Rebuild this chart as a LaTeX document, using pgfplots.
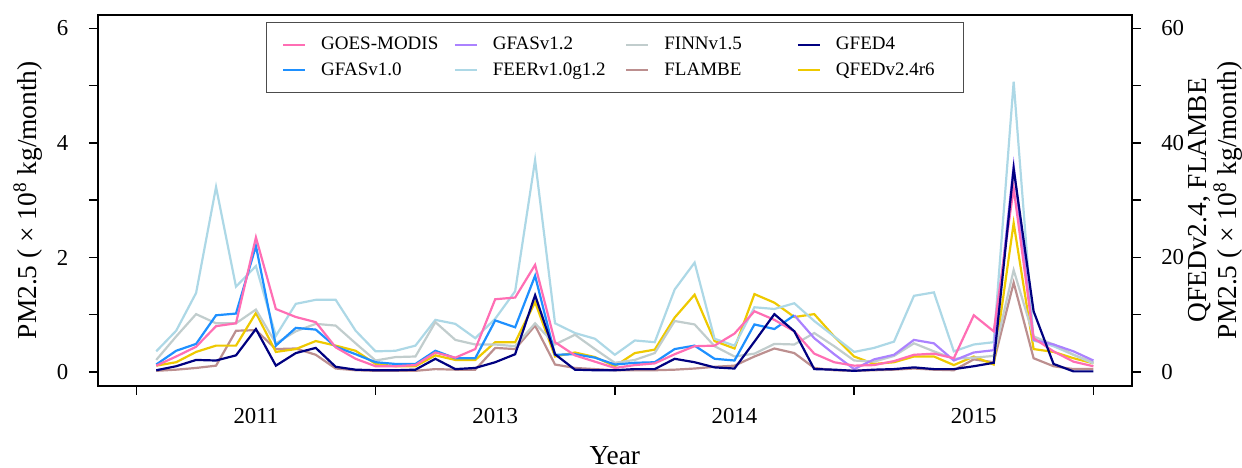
\documentclass[border=0pt]{standalone}
\usepackage{fontspec}
\setmainfont{Liberation Serif}
\usepackage{pgfplots}
\usepackage{pgfplotstable}
\pgfplotsset{compat=1.18}

\definecolor{goescol}{HTML}{FF6EB4}
\definecolor{gfasAcol}{HTML}{1E90FF}
\definecolor{gfasBcol}{HTML}{AB82FF}
\definecolor{feercol}{HTML}{ADD8E6}
\definecolor{finncol}{HTML}{C1CDCD}
\definecolor{flambecol}{HTML}{BC8F8F}
\definecolor{gfedcol}{HTML}{000080}
\definecolor{qfedcol}{HTML}{EEC900}

% monthly PM2.5 emissions, Jan 2011 ... Dec 2015 (x 10^8 kg/month), left axis
\pgfplotstableread{
m  goes gfasA gfasB feer finn gfed
1  0.11 0.13 nan  0.36 0.21 0.03
2  0.27 0.37 nan  0.72 0.62 0.10
3  0.44 0.49 nan  1.38 1.01 0.21
4  0.80 0.99 nan  3.23 0.85 0.20
5  0.85 1.02 nan  1.49 0.85 0.29
6  2.35 2.20 nan  1.85 1.09 0.75
7  1.10 0.46 nan  0.63 0.50 0.11
8  0.96 0.77 nan  1.19 0.71 0.33
9  0.87 0.74 nan  1.26 0.84 0.42
10 0.43 0.44 nan  1.26 0.81 0.09
11 0.23 0.31 nan  0.72 0.50 0.04
12 0.10 0.17 nan  0.36 0.20 0.03
13 0.10 0.14 nan  0.37 0.26 0.03
14 0.12 0.14 nan  0.46 0.27 0.04
15 0.34 0.37 nan  0.91 0.87 0.23
16 0.25 0.24 nan  0.84 0.56 0.05
17 0.40 0.24 nan  0.59 0.48 0.07
18 1.27 0.90 nan  0.93 0.48 0.17
19 1.30 0.78 nan  1.41 0.45 0.31
20 1.87 1.68 nan  3.70 0.85 1.34
21 0.52 0.30 nan  0.85 0.48 0.31
22 0.29 0.31 nan  0.68 0.65 0.04
23 0.18 0.25 nan  0.58 0.40 0.03
24 0.07 0.13 nan  0.30 0.16 0.03
25 0.12 0.16 nan  0.55 0.21 0.05
26 0.15 0.17 nan  0.52 0.33 0.05
27 0.31 0.40 nan  1.44 0.89 0.23
28 0.45 0.46 nan  1.91 0.83 0.17
29 0.46 0.23 nan  0.58 0.45 0.08
30 0.67 0.20 nan  0.46 0.27 0.06
31 1.06 0.83 nan  1.13 0.32 0.53
32 0.91 0.75 nan  1.10 0.49 1.01
33 0.71 0.99 0.99 1.20 0.48 0.71
34 0.32 nan  0.59 0.89 0.68 0.05
35 0.17 nan  0.31 0.62 0.45 0.04
36 0.11 nan  0.05 0.35 0.20 0.02
37 0.12 nan  0.22 0.42 0.18 0.04
38 0.19 nan  0.30 0.53 0.28 0.05
39 0.30 nan  0.56 1.33 0.50 0.08
40 0.32 nan  0.50 1.39 0.36 0.05
41 0.24 nan  0.20 0.36 0.23 0.05
42 0.99 nan  0.34 0.48 0.25 0.10
43 0.71 nan  0.38 0.52 0.28 0.16
44 3.21 nan  3.60 5.07 1.78 3.55
45 0.59 nan  0.56 0.55 0.62 1.06
46 0.36 nan  0.48 0.45 0.48 0.14
47 0.18 nan  0.36 0.30 0.30 0.01
48 0.10 nan  0.20 0.15 0.17 0.01
}\emisleft

% QFED and FLAMBE on the right axis (x 10^8 kg/month)
\pgfplotstableread{
m  qfed flambe
1  1.1  0.2
2  1.7  0.4
3  3.5  0.7
4  4.6  1.1
5  4.6  7.2
6  10.3 7.3
7  3.5  4.0
8  4.0  4.1
9  5.4  3.0
10 4.6  0.6
11 3.7  0.3
12 1.4  0.2
13 1.0  0.2
14 1.0  0.2
15 2.9  0.5
16 2.1  0.4
17 2.1  0.4
18 5.2  4.2
19 5.2  4.0
20 12.2 8.1
21 2.7  1.3
22 3.4  0.7
23 2.6  0.5
24 1.0  0.3
25 3.3  0.3
26 3.9  0.3
27 9.5  0.4
28 13.5 0.6
29 5.4  0.9
30 4.1  1.1
31 13.6 2.7
32 12.1 4.1
33 9.6  3.3
34 10.1 0.7
35 6.2  0.3
36 2.7  0.2
37 1.4  0.3
38 1.7  0.4
39 2.7  0.6
40 2.7  0.4
41 1.2  0.3
42 2.7  2.2
43 1.3  1.7
44 26.0 15.6
45 4.0  2.4
46 3.5  1.0
47 2.4  0.5
48 1.5  0.5
}\emisright

\pgfplotsset{
  panel/.style={
    width=516.85pt, height=185.5pt, scale only axis,
    at={(0pt,0pt)}, anchor=south west,
    xmin=-1.92, xmax=49.92,
    tick align=outside, major tick length=4.6pt,
    every tick/.style={black, line width=0.7pt},
    axis line style={black, line width=0.9pt},
    /pgf/number format/assume math mode=true,
    tick label style={font=\fontsize{11.4}{13}\selectfont},
    label style={font=\fontsize{13.7}{15}\selectfont},
    unbounded coords=jump,
  },
  series/.style={line width=1.1pt, #1},
}

\begin{document}
\begin{tikzpicture}
\useasboundingbox (-49pt,-40.65pt) rectangle (572pt,192.85pt);

% right-hand scale: QFEDv2.4 and FLAMBE
\begin{axis}[panel,
  ymin=-2.4, ymax=62.4,
  axis y line*=right, axis x line=none,
  ytick={0,10,...,60}, yticklabels={0,,20,,40,,60},
  yticklabel style={anchor=west, inner xsep=0pt, xshift=10pt},
  ylabel={QFEDv2.4, FLAMBE\\PM2.5 ( × 10\textsuperscript{8} kg/month)},
  ylabel style={align=center, at={(axis description cs:1.0811,0.5)}, anchor=center},
]
\addplot[series=flambecol, forget plot] table[x=m, y=flambe] {\emisright};
\addplot[series=qfedcol, forget plot] table[x=m, y=qfed] {\emisright};
\end{axis}

% left-hand scale: all other inventories
\begin{axis}[panel,
  ymin=-0.24, ymax=6.24,
  xtick={0,12,24,36,48}, xticklabels={,,,,},
  extra x ticks={6,18,30,42}, extra x tick labels={2011,2013,2014,2015},
  extra x tick style={major tick length=0pt},
  xtick pos=bottom, ytick pos=left,
  ytick={0,...,6}, yticklabels={0,,2,,4,,6},
  xticklabel style={anchor=base, yshift=-18.8pt},
  yticklabel style={anchor=east, inner xsep=0pt, xshift=-10.1pt},
  xlabel={Year},
  xlabel style={at={(axis description cs:0.5,0)}, anchor=base, inner sep=0pt, yshift=-39.2pt},
  ylabel={PM2.5 ( × 10\textsuperscript{8} kg/month)},
  ylabel style={at={(axis description cs:-0.0594,0.5)}, anchor=base},
  legend columns=4,
  legend image code/.code={%
    \path[draw=none, fill=none] (0pt,-1pt) rectangle (23.3pt,1pt);
    \draw[#1] (4.3pt,0pt) -- (15.3pt,0pt);},
  legend style={at={(axis description cs:0.1625,0.9795)}, anchor=north west,
    draw=black!70, line width=0.6pt, fill=white,
    inner xsep=4pt, inner ysep=5pt, column sep=0pt, row sep=1pt,
    font=\fontsize{9.5}{11}\selectfont,
    nodes={inner xsep=0pt},
    cells={anchor=west}},
]
\addlegendimage{series=goescol}   \addlegendentry{\makebox[62.5pt][l]{GOES-MODIS}}
\addlegendimage{series=gfasBcol}  \addlegendentry{\makebox[62.5pt][l]{GFASv1.2}}
\addlegendimage{series=finncol}   \addlegendentry{\makebox[62.5pt][l]{FINNv1.5}}
\addlegendimage{series=gfedcol}   \addlegendentry{\makebox[59.8pt][l]{GFED4}}
\addlegendimage{series=gfasAcol}  \addlegendentry{\makebox[62.5pt][l]{GFASv1.0}}
\addlegendimage{series=feercol}   \addlegendentry{\makebox[62.5pt][l]{FEERv1.0g1.2}}
\addlegendimage{series=flambecol} \addlegendentry{\makebox[62.5pt][l]{FLAMBE}}
\addlegendimage{series=qfedcol}   \addlegendentry{\makebox[59.8pt][l]{QFEDv2.4r6}}

\addplot[series=feercol, forget plot] table[x=m, y=feer] {\emisleft};
\addplot[series=finncol, forget plot] table[x=m, y=finn] {\emisleft};
\addplot[series=gfasAcol, forget plot] table[x=m, y=gfasA] {\emisleft};
\addplot[series=gfasBcol, forget plot] table[x=m, y=gfasB] {\emisleft};
\addplot[series=goescol, forget plot] table[x=m, y=goes] {\emisleft};
\addplot[series=gfedcol, forget plot] table[x=m, y=gfed] {\emisleft};
\end{axis}
\end{tikzpicture}
\end{document}
